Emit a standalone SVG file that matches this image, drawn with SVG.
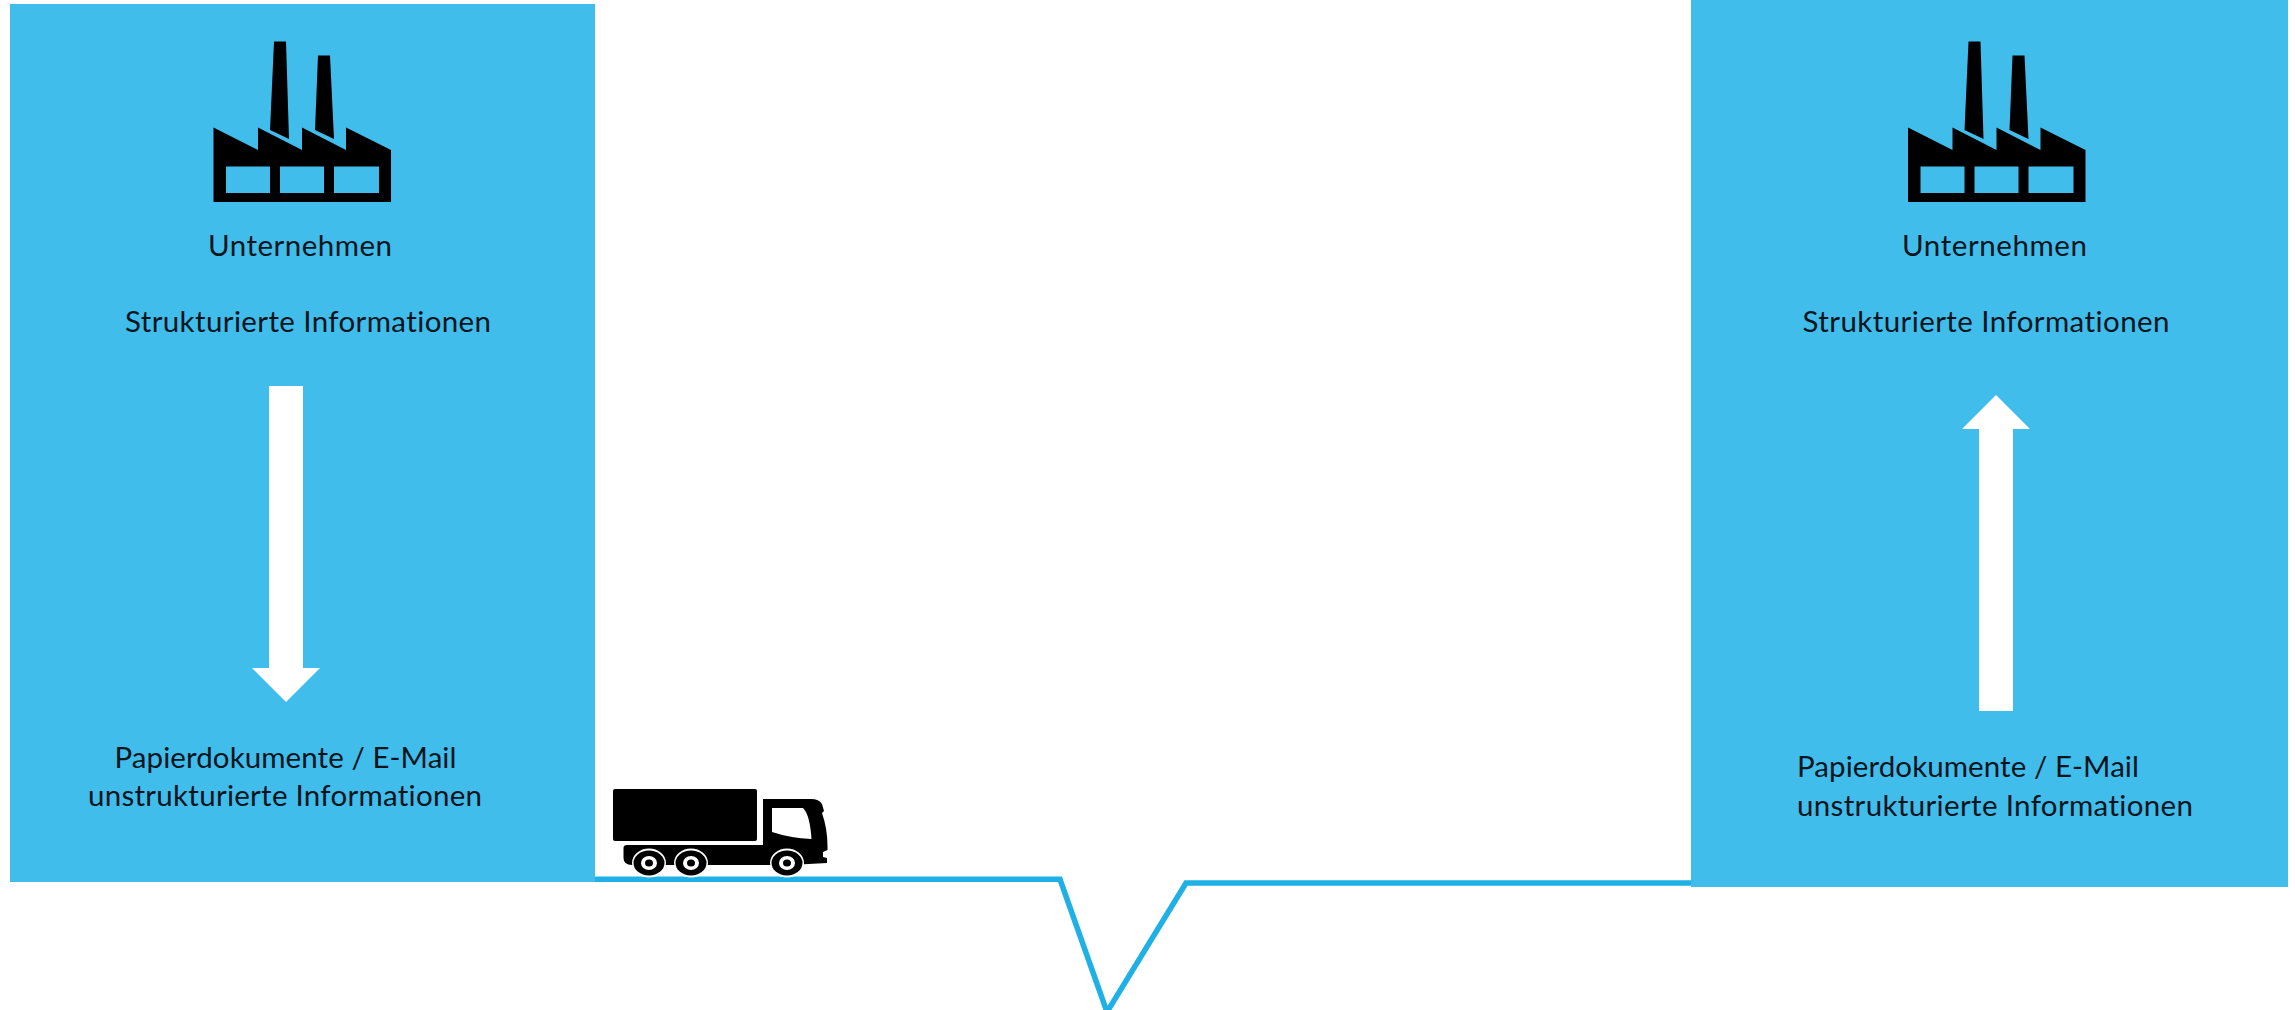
<svg xmlns="http://www.w3.org/2000/svg" width="2295" height="1010" viewBox="0 0 2295 1010">
<style>
.panel{fill:#41bdec}
.arrow{fill:#fff}
.t{font-family:"Lato","Open Sans",sans-serif;font-size:29.500px;fill:#06141c;font-variant-ligatures:none}
.m{text-anchor:middle}
.line{fill:none;stroke:#1fb0e6;stroke-width:5.500;stroke-linejoin:miter}
</style>
<defs>
<g id="factory">
<path fill="#000" fill-rule="evenodd" d="M213.500 127.500L258 150V127.500L302 150V127.500L346 150V127.500L391 150V202H213.500ZM226 166.500V193H270V166.500ZM280 166.500V193H324V166.500ZM334 166.500V193H379V166.500Z"/>
<path fill="#000" d="M274 41.500H286L289 139L270 130ZM318 55.500H330L334 139L315 130Z"/>
</g>
<g id="wheel">
<ellipse rx="17" ry="14.500" fill="#fff"/>
<ellipse rx="15.500" ry="12.500" fill="#000"/>
<ellipse rx="8" ry="7" fill="#fff"/>
<ellipse rx="4" ry="3.500" fill="#000"/>
</g>
</defs>
<rect width="2295" height="1010" fill="#fff"/>
<g id="connectors">
<path class="line" d="M595 879.300H1060L1107 1012L1186 883H1691"/>
</g>
<g id="left-panel">
<rect class="panel" x="10" y="4" width="585" height="878"/>
<use href="#factory"/>
<text class="t m" x="300" y="256" textLength="184">Unternehmen</text>
<text class="t m" x="308" y="332" textLength="366">Strukturierte Informationen</text>
<polygon class="arrow" points="269,386 303,386 303,668 320,668 286,702 252,668 269,668"/>
<text class="t m" x="285.500" y="768" textLength="342">Papierdokumente / E-Mail</text>
<text class="t m" x="285" y="806" textLength="394">unstrukturierte Informationen</text>
</g>
<g id="right-panel">
<rect class="panel" x="1691" y="0" width="597" height="887"/>
<use href="#factory" x="1694.500"/>
<text class="t m" x="1994.500" y="256" textLength="185">Unternehmen</text>
<text class="t m" x="1986" y="332" textLength="367">Strukturierte Informationen</text>
<polygon class="arrow" points="1979,711 2013,711 2013,429 2030,429 1996,395 1962,429 1979,429"/>
<text class="t" x="1797" y="777" textLength="342">Papierdokumente / E-Mail</text>
<text class="t" x="1797" y="816" textLength="396">unstrukturierte Informationen</text>
</g>
<g id="truck">
<rect x="613" y="789" width="144" height="52" rx="2"/>
<path d="M763 799H811Q819 799 822 804L824 811L822 813Q828 830 827.500 850L823 852V857L827 858V863L790 865H632Q623 865 623.500 857V848Q623.500 845 627 845H763Z"/>
<path fill="#fff" d="M772 808H803Q810 815 811.500 839Q790 838 772 832Z"/>
<use href="#wheel" x="649" y="863"/>
<use href="#wheel" x="691" y="863"/>
<use href="#wheel" x="787" y="863"/>
</g>
</svg>
